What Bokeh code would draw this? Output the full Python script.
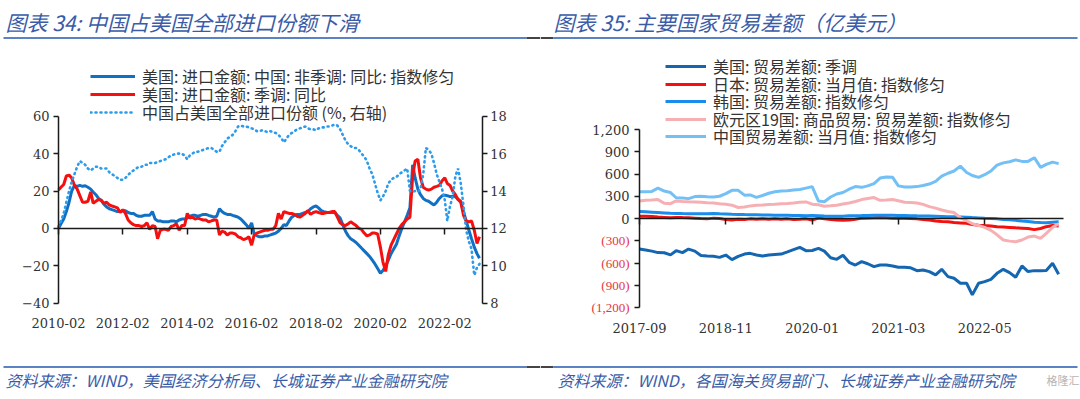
import pandas as pd
from bokeh.plotting import figure
from bokeh.layouts import row
from bokeh.models import (Range1d, LinearAxis, DatetimeAxis, FixedTicker, DatetimeTickFormatter,
                          CustomJSTickFormatter, Legend, LegendItem, Label, LabelSet,
                          ColumnDataSource, BoxAnnotation)
from bokeh.embed import file_html
from bokeh.resources import INLINE

# ---------------- Left chart data (monthly, from 2010-02) ----------------
left_start = "2010-02-01"
us_imports_china_yoy = [
    0, 2.5, 5, 9, 14, 20, 23, 22.5, 23, 22.5, 22.8, 22,
    21, 19.5, 18, 16, 15, 13, 11.5, 10.5, 10, 9.5, 9, 9,
    9.5, 9.5, 8.5, 8, 8, 7, 6.5, 6.5, 7, 7, 7, 9,
    5, 4, 4, 3.5, 3.5, 3.5, 4, 4, 3.5, 4.5, 5, 5,
    5.5, 6.5, 7, 7, 6.5, 7, 7.5, 7.5, 7, 6.5, 6, 6.5,
    10.5, 9, 8, 7.5, 7.5, 7, 6.5, 6, 5, 3.5, 2, 0,
    3, -3, -4, -4.5, -4.5, -4, -4, -3.5, -3, -2.5, -1.5, 0,
    2, 1.5, 4, 6, 7, 7.5, 7.5, 8, 8.5, 9, 10.5, 11.5,
    12, 11, 9.5, 9, 8.5, 8.5, 8.5, 8.5, 7, 5.5, 2, -1.5,
    -4, -5.5, -6.5, -7.5, -9, -10.5, -12, -13.5, -15, -17, -19, -21.5,
    -24, -22.5, -20, -17, -13.5, -11, -8.5, -4, 0, 3.5, 7, 11,
    34, 27, 21, 18, 16, 15, 14.5, 13.5, 12.5, 14, 16, 17.5,
    17.8, 17.5, 17, 17, 17, 15.5, 14.5, 9, 4, -1, -5.5, -10, -13.5, -16,
]
us_imports_sa_yoy = [
    20.5, 22, 23.5, 28, 28.5, 27, 23, 21, 17.5, 14, 14, 14.5,
    19.5, 13.5, 14.5, 15.5, 15, 13.5, 14, 12.5, 12, 11.5, 11, 8.5,
    10, 8, 4.5, 3, 2, 1.5, 1.5, 1, 1.5, 3, -0.5, 1.5,
    1, -5.5, -1, -0.5, -0.5, -1, 1, 1.5, 2.5, -1, 1.5, 1.5,
    8, 5.5, 6, 5, 5.5, 5, 4.5, 4.5, 3.5, 4, 4.5, 4.5,
    -3.5, -1.5, -2, -3.5, -2.5, -2.5, -3, -4.5, -5, -6, -5.5, -4.5,
    -9, -3.5, -2.5, -2, -1.5, -1, -1, -0.5, -0.5, 1.5, 8, 5,
    9, 8.5, 8, 8, 7.5, 6.5, 6, 7, 8, 9.5, 7.5, 8.5,
    9, 8.5, 8, 8, 8.5, 8.5, 9, 9, 6, 3, 2, 1.5,
    2.5, 3.5, 2.5, 1.5, 0, -0.5, -2.5, -4, -3.5, -2.5, -2.5, -3,
    -10, -18, -23, -14, -9, -6, -3, 0, 2, 3.5, 5, 6,
    28, 36, 37, 27, 22, 21, 20.5, 21, 22, 22.5, 23, 25.5,
    27, 24, 23, 20, 18, 15.5, 14, 7, 4, 3.5, 4, -1, -8, -4.5,
]
china_share_pct = [
    12.1, 12.4, 12.8, 13.4, 14.0, 14.5, 14.9, 15.3, 15.6, 15.5, 15.4, 15.2,
    15.1, 15.2, 15.3, 15.3, 15.2, 15.2, 15.2, 15.0, 14.9, 14.8, 14.7, 14.6,
    14.6, 14.7, 14.85, 15.0, 15.1, 15.2, 15.3, 15.3, 15.4, 15.4, 15.5, 15.5,
    15.5, 15.55, 15.6, 15.65, 15.7, 15.8, 15.9, 15.95, 16.0, 16.0, 16.0, 15.9,
    15.7, 15.9, 16.0, 16.1, 16.1, 16.15, 16.2, 16.25, 16.3, 16.3, 16.2, 16.1,
    16.1, 16.4, 16.6, 16.8, 16.9, 17.0, 17.2, 17.45, 17.5, 17.45, 17.45, 17.4,
    17.35, 17.3, 17.2, 17.2, 17.25, 17.2, 17.15, 17.2, 17.15, 17.1, 17.0, 16.85,
    16.6, 16.8, 17.0, 17.1, 17.2, 17.3, 17.35, 17.4, 17.45, 17.35, 17.3, 17.3,
    17.25, 17.35, 17.4, 17.4, 17.45, 17.45, 17.5, 17.55, 17.5, 17.3, 17.0, 16.7,
    16.5, 16.4, 16.3, 16.3, 16.2, 16.0, 15.85, 15.6, 15.2, 14.9, 14.4, 13.9,
    13.5, 13.7, 14.0, 14.4, 14.6, 14.7, 14.75, 14.9, 15.0, 15.1, 15.2, 14.0,
    13.95, 14.0, 13.95, 14.1, 14.9, 16.3, 16.2, 16.0, 15.5, 14.9, 14.5, 14.1,
    13.5, 12.4, 13.2, 13.7, 14.8, 15.2, 14.4, 13.2, 11.9, 11.3, 10.9, 9.5, 9.9, 10.1,
]
left_names = ["美国: 进口金额: 中国: 非季调: 同比: 指数修匀",
              "美国: 进口金额: 季调: 同比",
              "中国占美国全部进口份额 (%, 右轴)"]
left_x_tick_labels = ["2010-02", "2012-02", "2014-02", "2016-02", "2018-02", "2020-02", "2022-02"]
left_y_ticks = [-40, -20, 0, 20, 40, 60]
share_ticks = [8, 10, 12, 14, 16, 18]

# ---------------- Right chart data (monthly, from 2017-09, 亿美元) ----------------
right_start = "2017-09-01"
us_balance = [
    -412, -425, -440, -460, -462, -490, -434, -460, -412, -440,
    -500, -506, -510, -524, -493, -555, -510, -480, -470, -493,
    -505, -493, -485, -480, -450, -420, -390, -434, -432, -403,
    -440, -530, -551, -495, -590, -627, -582, -610, -649, -627,
    -627, -640, -658, -658, -665, -703, -694, -716, -761, -685,
    -784, -806, -873, -873, -1030, -873, -851, -820, -739, -685,
    -730, -793, -640, -716, -703, -703, -700, -604, -752,
]
japan_balance = [
    30, 32, 28, 20, 15, 10, 15, 12, 10, 5,
    0, -5, 5, 0, -15, -20, -10, -15, -5, -10,
    -5, -10, -5, -10, -5, -15, -10, -5, -20, 5,
    -5, -15, -20, -25, -20, -10, 5, 8, 10, 12,
    10, 5, 8, 5, 0, -5, -15, -20, -35, -40,
    -45, -55, -60, -65, -80, -90, -95, -100, -110, -115,
    -120, -125, -130, -135, -150, -135, -110, -95, -100,
]
korea_balance = [
    95, 90, 85, 80, 75, 70, 68, 66, 65, 65,
    64, 65, 66, 64, 62, 58, 55, 53, 52, 50,
    48, 46, 44, 44, 45, 42, 40, 38, 40, 38,
    35, 32, 30, 32, 36, 38, 40, 42, 44, 45,
    45, 44, 42, 40, 38, 36, 35, 34, 32, 28,
    24, 22, 20, 16, 12, 8, 4, 0, -5, -12,
    -18, -25, -35, -42, -50, -55, -58, -50, -45,
]
euro_balance = [
    237, 245, 250, 255, 205, 200, 237, 230, 225, 222,
    218, 212, 210, 200, 193, 180, 148, 155, 170, 179,
    182, 190, 193, 198, 201, 210, 220, 224, 193, 185,
    166, 172, 179, 195, 210, 230, 255, 270, 282, 246,
    250, 255, 240, 220, 215, 210, 190, 160, 140, 115,
    95, 80, 10, -30, -70, -95, -120, -160, -220, -290,
    -305, -313, -290, -250, -237, -269, -200, -120, -70,
]
china_balance = [
    360, 360, 365, 410, 370, 350, 280, 275, 268, 295,
    300, 292, 290, 300, 335, 380, 380, 315, 318, 285,
    310, 340, 360, 370, 375, 385, 390, 410, 430, 235,
    225, 290, 330, 350, 395, 430, 420, 440, 470, 545,
    560, 555, 440, 425, 425, 430, 445, 465, 500, 570,
    610, 640, 706, 620, 580, 555, 590, 640, 720, 750,
    765, 790, 770, 770, 820, 690, 730, 760, 740,
]
right_names = ["美国: 贸易差额: 季调",
               "日本: 贸易差额: 当月值: 指数修匀",
               "韩国: 贸易差额: 指数修匀",
               "欧元区19国: 商品贸易: 贸易差额: 指数修匀",
               "中国贸易差额: 当月值: 指数修匀"]
right_x_tick_labels = ["2017-09", "2018-11", "2020-01", "2021-03", "2022-05"]
right_y_ticks = [-1200, -900, -600, -300, 0, 300, 600, 900, 1200]
right_y_tick_labels = ["(1,200)", "(900)", "(600)", "(300)", "0", "300", "600", "900", "1,200"]

titles = ["图表 34:  中国占美国全部进口份额下滑", "图表 35:  主要国家贸易差额（亿美元）"]
sources = ["资料来源：WIND，美国经济分析局、长城证券产业金融研究院",
           "资料来源：WIND，各国海关贸易部门、长城证券产业金融研究院"]

# ---------------- styles / geometry ----------------
CJK = "Noto Sans CJK SC"
NUM = "DejaVu Serif"
TITLE_C = "#3A5CA8"
RULE_C = "#5A82C4"
AX_C = "#1a1a1a"
LBL_C = "#333333"
PAGE_TOP, PAGE_BOTTOM = 0, 399   # canvas rows in picture coordinates
FIG_H = PAGE_BOTTOM - PAGE_TOP
LEG_ROW = 24                     # legend row height in px


def ms(s):
    return pd.Timestamp(s).value / 1e6


def src(start, vals):
    return ColumnDataSource(dict(date=pd.date_range(start=start, periods=len(vals), freq="MS"), v=vals))


def ticks_ms(labels):
    return [ms(s + "-01") for s in labels]


def extend(p0, v0, p1, v1, pa, pb):
    k = (v1 - v0) / (p1 - p0)
    return v0 + (pa - p0) * k, v0 + (pb - p0) * k


def style_axis(ax):
    ax.axis_line_color = AX_C
    ax.axis_line_width = 1.5
    ax.major_tick_line_color = AX_C
    ax.major_tick_line_width = 1.5
    ax.major_tick_in = 0
    ax.major_tick_out = 5
    ax.minor_tick_line_color = None
    ax.major_label_text_font = NUM
    ax.major_label_text_font_size = "13px"
    ax.major_label_text_color = LBL_C
    ax.major_label_standoff = 4


def make_fig(page_left, page_right, xr, yr):
    p = figure(frame_width=page_right - page_left, frame_height=FIG_H,
               x_range=Range1d(*xr), y_range=Range1d(*yr),
               x_axis_location=None, y_axis_location=None,
               output_backend="svg", toolbar_location=None,
               min_border=0, min_border_left=0, min_border_right=0, min_border_top=0, min_border_bottom=0,
               background_fill_color="white", border_fill_color="white", outline_line_color=None)
    p.xgrid.visible = False
    p.ygrid.visible = False
    return p


def add_x_axes(p, labels, y_bottom, x_bounds, label_gap):
    lab = DatetimeAxis(fixed_location=y_bottom, ticker=FixedTicker(ticks=ticks_ms(labels)),
                       formatter=DatetimeTickFormatter(days="%Y-%m", months="%Y-%m", years="%Y-%m"))
    style_axis(lab)
    lab.axis_line_color = None
    lab.major_tick_line_color = None
    lab.major_tick_out = 0
    lab.major_label_standoff = label_gap
    p.add_layout(lab, "below")
    zero_ax = DatetimeAxis(fixed_location=0, bounds=x_bounds, ticker=FixedTicker(ticks=ticks_ms(labels)),
                           formatter=CustomJSTickFormatter(code="return ''"))
    style_axis(zero_ax)
    zero_ax.major_tick_out = 6
    p.add_layout(zero_ax, "below")


def add_texts(p, page_left, title, title_x, source, source_x, rule_segments):
    sx = lambda px: px - page_left
    sy = lambda py: PAGE_BOTTOM - py
    p.add_layout(Label(x=sx(title_x), y=sy(21), x_units="screen", y_units="screen",
                       text=title, text_font=CJK, text_font_style="italic", text_font_size="21px",
                       text_color=TITLE_C, text_baseline="middle"))
    p.add_layout(Label(x=sx(source_x), y=sy(379.5), x_units="screen", y_units="screen",
                       text=source, text_font=CJK, text_font_style="italic", text_font_size="16px",
                       text_color=TITLE_C, text_baseline="middle"))
    for (a, b, col) in rule_segments:
        for yy in (37.5, 366.5):
            p.add_layout(BoxAnnotation(left=sx(a), right=sx(b), top=sy(yy - 1), bottom=sy(yy + 1),
                                       left_units="screen", right_units="screen",
                                       top_units="screen", bottom_units="screen",
                                       fill_color=col, fill_alpha=1, line_alpha=0))


def add_legend_rows(p, page_left, renderers, names, gx, row_centers, glyph_w):
    # one single-entry legend per row, so that the row pitch matches the reference
    for r, n, c in zip(renderers, names, row_centers):
        leg = Legend(items=[LegendItem(label=n, renderers=[r])],
                     location=(gx - page_left, PAGE_BOTTOM - (c + LEG_ROW / 2)),
                     padding=0, margin=0, spacing=0,
                     label_height=LEG_ROW, glyph_height=LEG_ROW, glyph_width=glyph_w, label_standoff=7,
                     background_fill_alpha=0, border_line_alpha=0,
                     label_text_font=CJK, label_text_font_size="16px", label_text_color=LBL_C)
        p.add_layout(leg)


# ================= Left chart =================
L_LEFT, L_RIGHT = 0, 540
lx0, lx1 = ms(left_start), ms("2023-04-01")          # data area: picture x 58 .. 481.7
lxr = extend(58, lx0, 481.7, lx1, L_LEFT, L_RIGHT)
lyr = extend(302.7, -40, 115.7, 60, PAGE_BOTTOM, PAGE_TOP)
lsr = extend(302.7, 8, 115.7, 18, PAGE_BOTTOM, PAGE_TOP)
pL = make_fig(L_LEFT, L_RIGHT, lxr, lyr)
pL.extra_y_ranges = {"share": Range1d(*lsr)}

ax_l = LinearAxis(fixed_location=lx0, bounds=(-40, 60), ticker=FixedTicker(ticks=left_y_ticks))
style_axis(ax_l)
pL.add_layout(ax_l, "left")
ax_r = LinearAxis(y_range_name="share", fixed_location=lx1, bounds=(8, 18), ticker=FixedTicker(ticks=share_ticks))
style_axis(ax_r)
ax_r.major_label_standoff = 3
pL.add_layout(ax_r, "right")
add_x_axes(pL, left_x_tick_labels, -40, (lx0, lx1), 15)

r1 = pL.line("date", "v", source=src(left_start, us_imports_china_yoy), line_color="#1170C4", line_width=3)
r2 = pL.line("date", "v", source=src(left_start, us_imports_sa_yoy), line_color="#F50F0F", line_width=3)
r3 = pL.line("date", "v", source=src(left_start, china_share_pct), y_range_name="share",
             line_color="#2B9BEC", line_width=2.6, line_dash="1 4", line_cap="round")
add_legend_rows(pL, L_LEFT, [r1, r2, r3], left_names, 90, [75.5, 93.5, 111.5], 45)
add_texts(pL, L_LEFT, titles[0], 5, sources[0], 5, [(3, 526, RULE_C), (526, 540, "#444444")])

# ================= Right chart =================
R_LEFT, R_RIGHT = 540, 1080
rx0, rx1 = ms(right_start), ms("2023-05-25")          # data area: picture x 639 .. 1063
rxr = extend(639, rx0, 1063, rx1, R_LEFT, R_RIGHT)
ryr = extend(307, -1200, 129, 1200, PAGE_BOTTOM, PAGE_TOP)
pR = make_fig(R_LEFT, R_RIGHT, rxr, ryr)

yax = LinearAxis(fixed_location=rx0, bounds=(-1200, 1200), ticker=FixedTicker(ticks=right_y_ticks),
                 formatter=CustomJSTickFormatter(code="return tick < 0 ? '' : tick.toLocaleString('en-US')"))
style_axis(yax)
yax.major_label_standoff = 5
pR.add_layout(yax, "left")
add_x_axes(pR, right_x_tick_labels, -1200, (rx0, rx1), 15)
neg = [(v, t) for v, t in zip(right_y_ticks, right_y_tick_labels) if v < 0]
pR.add_layout(LabelSet(x=629 - R_LEFT, y="y", text="t", x_units="screen",
                       source=ColumnDataSource(dict(y=[v for v, _ in neg], t=[t for _, t in neg])),
                       text_align="right", text_baseline="middle", text_font=NUM,
                       text_font_size="13px", text_color="#E4363C"))

right_series = [us_balance, japan_balance, korea_balance, euro_balance, china_balance]
right_colors = ["#1466B0", "#F50F0F", "#1A8CEB", "#F6B0B3", "#72C0F6"]
rr = [pR.line("date", "v", source=src(right_start, s), line_color=c, line_width=3)
      for s, c in zip(right_series, right_colors)]
add_legend_rows(pR, R_LEFT, rr, right_names, 665, [66, 83.5, 101, 118.5, 135.5], 41)
add_texts(pR, R_LEFT, titles[1], 553, sources[1], 557, [(540, 553, "#444444"), (553, 1077, RULE_C)])
pR.add_layout(Label(x=1046 - R_LEFT, y=PAGE_BOTTOM - 379.5, x_units="screen", y_units="screen", text="格隆汇",
                    text_font=CJK, text_font_size="11px", text_color="#b5b5b5", text_baseline="middle"))

layout = row(pL, pR)
open("out.html", "w").write(file_html(layout, INLINE))
